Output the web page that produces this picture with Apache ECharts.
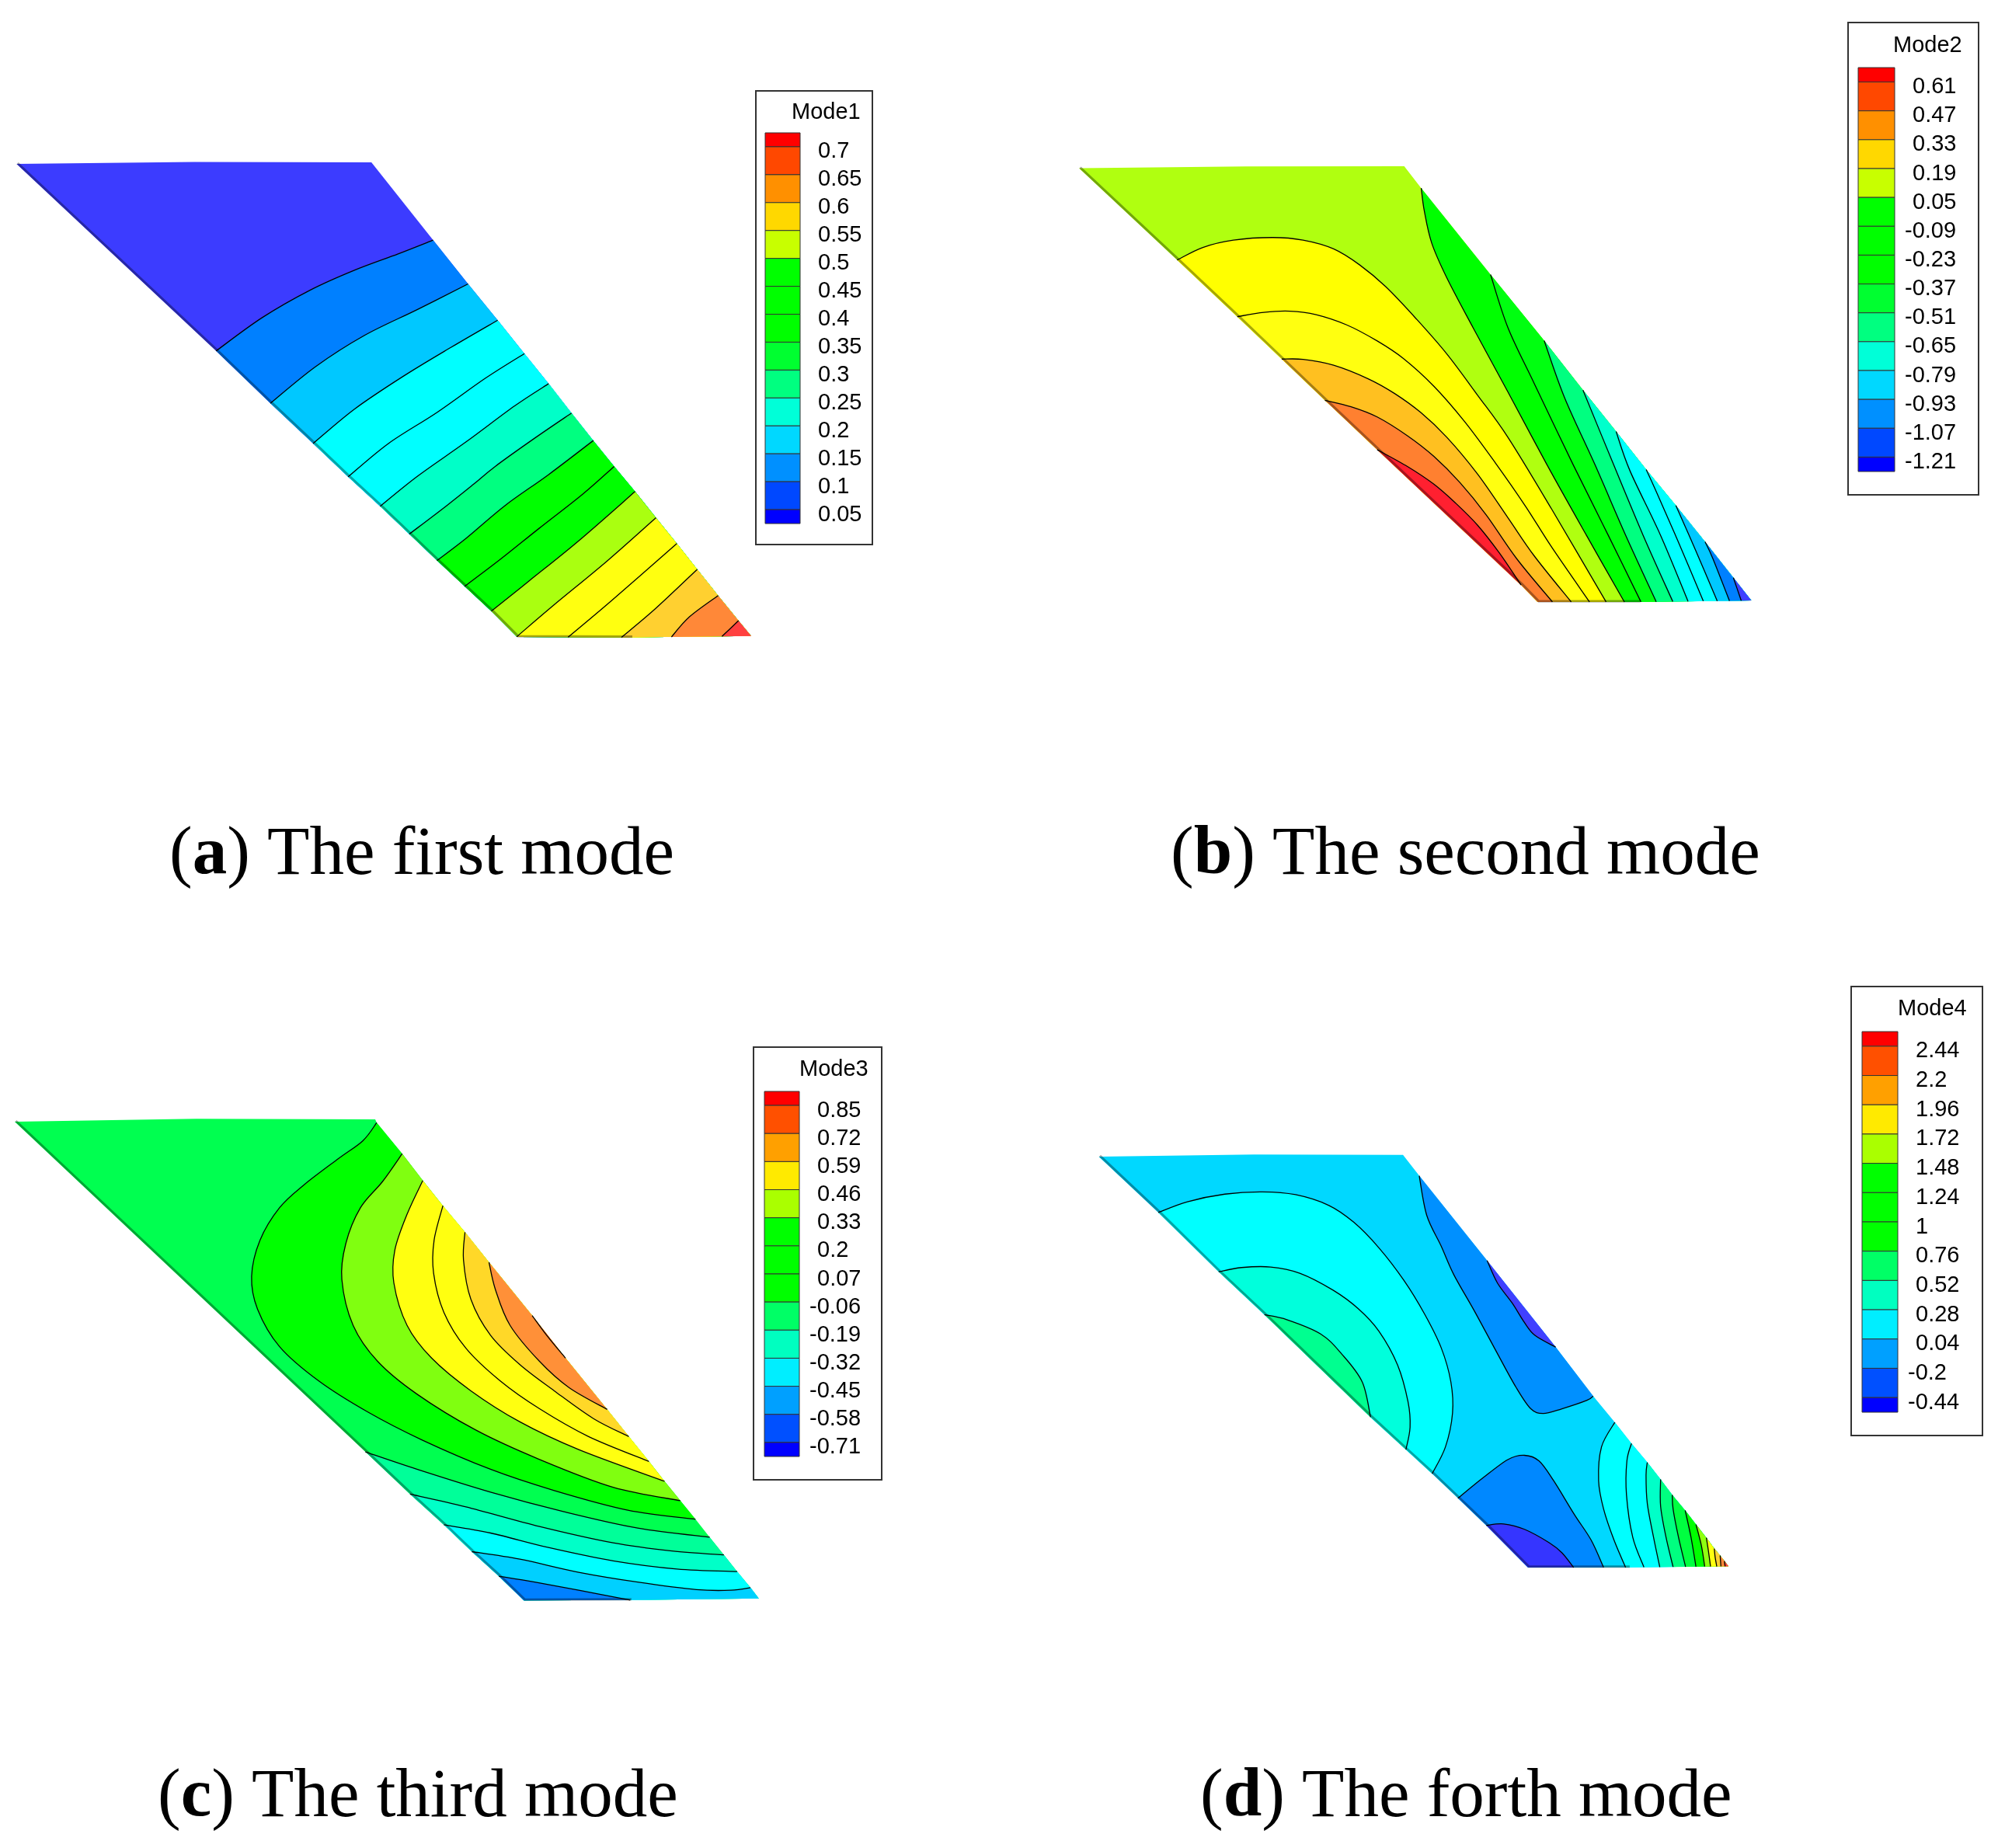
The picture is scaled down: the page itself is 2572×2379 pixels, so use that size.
<!DOCTYPE html>
<html>
<head>
<meta charset="utf-8">
<style>
  html, body { margin: 0; padding: 0; background: #fff; }
  #chart { width: 2572px; height: 2379px; }
</style>
<script src="https://cdn.jsdelivr.net/npm/echarts@6/dist/echarts.min.js"></script>
</head>
<body>
<div id="chart"></div>
<script>
'use strict';

// legend levels
var mode1Ticks = [0.7, 0.65, 0.6, 0.55, 0.5, 0.45, 0.4, 0.35, 0.3, 0.25, 0.2, 0.15, 0.1, 0.05];
var mode2Ticks = [0.61, 0.47, 0.33, 0.19, 0.05, -0.09, -0.23, -0.37, -0.51, -0.65, -0.79, -0.93, -1.07, -1.21];
var mode3Ticks = [0.85, 0.72, 0.59, 0.46, 0.33, 0.2, 0.07, -0.06, -0.19, -0.32, -0.45, -0.58, -0.71];
var mode4Ticks = [2.44, 2.2, 1.96, 1.72, 1.48, 1.24, 1, 0.76, 0.52, 0.28, 0.04, -0.2, -0.44];

var colors15 = ['#ff0000', '#ff4800', '#ff9000', '#ffd800', '#c8ff00', '#00ff00', '#00ff00', '#00ff00', '#00ff30', '#00ff80', '#00ffd8', '#00d8ff', '#0090ff', '#0048ff', '#0000ff'];
var colors14 = ['#ff0000', '#ff5000', '#ffa000', '#ffea00', '#aaff00', '#00ff00', '#00ff00', '#00ff00', '#00ff66', '#00ffc0', '#00eeff', '#00a0ff', '#0050ff', '#0000ff'];

// wing outlines, clockwise from the root leading corner, in crop units (0-1568 each way)
var mode1Outline = [[34, 50], [400, 44], [765, 45], [892, 283], [964, 417], [1025, 528], [1080, 630], [1130, 722], [1177, 812], [1222, 896], [1265, 975], [1308, 1052], [1351, 1132], [1394, 1211], [1436, 1290], [1479, 1370], [1521, 1447], [1547, 1494], [1300, 1498], [1065, 1497], [1012, 1418], [957, 1342], [900, 1263], [843, 1182], [783, 1097], [717, 1007], [645, 905], [557, 782], [445, 622]];
var mode1Base = '#3c3cff';
var mode1Colors = ['#0080ff', '#00c8ff', '#00ffff', '#00ffff', '#00ffc8', '#00ff80', '#00ff00', '#00ff00', '#aaff10', '#ffff10', '#ffff10', '#ffd030', '#ff8838', '#ff4040'];
var mode1Contours = [
  [[445, 622], [540, 520], [640, 435], [730, 375], [820, 325], [892, 283]],
  [[557, 782], [650, 670], [750, 575], [860, 495], [964, 417]],
  [[645, 905], [730, 800], [830, 700], [930, 610], [1025, 528]],
  [[717, 1007], [800, 905], [900, 810], [1000, 705], [1080, 630]],
  [[783, 1097], [860, 1005], [960, 900], [1060, 790], [1130, 722]],
  [[843, 1182], [920, 1095], [975, 1030], [1020, 975], [1100, 890], [1177, 812]],
  [[900, 1263], [960, 1195], [1040, 1095], [1130, 1000], [1222, 896]],
  [[957, 1342], [1030, 1260], [1110, 1165], [1200, 1060], [1265, 975]],
  [[1012, 1418], [1090, 1325], [1190, 1205], [1308, 1052]],
  [[1065, 1495], [1140, 1400], [1250, 1265], [1351, 1132]],
  [[1170, 1499], [1260, 1385], [1394, 1211]],
  [[1280, 1499], [1350, 1410], [1436, 1290]],
  [[1383, 1497], [1420, 1435], [1479, 1370]],
  [[1487, 1497], [1521, 1447]]
];

var mode2Outline = [[16, 44], [400, 38], [762, 37], [801, 112], [960, 408], [1083, 634], [1172, 803], [1248, 945], [1317, 1075], [1385, 1198], [1452, 1322], [1517, 1445], [1558, 1523], [1300, 1528], [1068, 1528], [1030, 1470], [700, 1007], [580, 838], [481, 697], [379, 552], [241, 358]];
var mode2Base = '#b0ff10';
var mode2Colors = ['#ffff00', '#ffff10', '#ffc020', '#ff8030', '#ff2030', '#00ff00', '#00ff10', '#00ff80', '#00ffcc', '#00ffff', '#00ffff', '#00c8ff', '#0080ff', '#4040ff'];
var mode2Contours = [
  [[241, 358], [300, 315], [370, 290], [460, 281], [530, 290], [600, 320], [660, 375], [720, 450], [790, 560], [860, 680], [930, 820], [1000, 965], [1100, 1210], [1225, 1528]],
  [[379, 552], [440, 537], [500, 533], [560, 545], [630, 580], [700, 635], [760, 695], [830, 790], [900, 910], [970, 1050], [1040, 1200], [1100, 1340], [1187, 1528]],
  [[481, 697], [530, 698], [600, 718], [680, 765], [740, 815], [800, 880], [860, 965], [930, 1090], [1000, 1240], [1060, 1370], [1145, 1528]],
  [[580, 838], [640, 860], [700, 895], [770, 960], [830, 1030], [890, 1120], [950, 1230], [1020, 1380], [1102, 1528]],
  [[700, 1007], [770, 1065], [830, 1125], [880, 1190], [930, 1265], [980, 1360], [1030, 1470]],
  [[1267, 1528], [1180, 1300], [1090, 1060], [1000, 810], [920, 590], [860, 420], [825, 300], [808, 190], [801, 112]],
  [[1305, 1528], [1230, 1300], [1150, 1060], [1060, 780], [1000, 590], [960, 408]],
  [[1340, 1528], [1270, 1300], [1200, 1060], [1130, 830], [1083, 634]],
  [[1378, 1528], [1310, 1300], [1240, 1050], [1172, 803]],
  [[1413, 1528], [1350, 1300], [1280, 1080], [1248, 945]],
  [[1448, 1528], [1390, 1320], [1340, 1150], [1317, 1075]],
  [[1480, 1528], [1430, 1350], [1385, 1198]],
  [[1508, 1528], [1470, 1380], [1452, 1322]],
  [[1535, 1528], [1525, 1480], [1517, 1445]]
];

var mode3Outline = [[30, 57], [400, 48], [765, 50], [768, 60], [820, 155], [862, 237], [903, 314], [948, 395], [997, 487], [1085, 650], [1153, 780], [1238, 937], [1282, 1020], [1323, 1096], [1355, 1157], [1387, 1216], [1418, 1273], [1447, 1328], [1476, 1382], [1503, 1433], [1530, 1482], [1547, 1515], [1285, 1520], [1068, 1521], [1017, 1447], [962, 1372], [905, 1290], [836, 1196], [745, 1067]];
var mode3Base = '#00ff50';
var mode3Colors = ['#00ff00', '#80ff10', '#ffff10', '#ffff10', '#ffd828', '#ff9038', '#ff3020', '#00ff99', '#00ffc8', '#00ffff', '#00d0ff', '#0080ff'];
var mode3Contours = [
  [[1418, 1273], [1280, 1245], [1130, 1185], [1000, 1120], [860, 1030], [750, 945], [650, 850], [570, 745], [525, 630], [513, 530], [530, 420], [570, 320], [620, 250], [690, 170], [740, 115], [768, 60]],
  [[1387, 1216], [1250, 1175], [1100, 1090], [970, 1000], [850, 890], [770, 790], [720, 680], [697, 540], [705, 430], [735, 320], [780, 240], [820, 155]],
  [[1355, 1157], [1180, 1060], [1060, 975], [960, 880], [880, 780], [830, 680], [803, 550], [805, 450], [830, 340], [862, 237]],
  [[1323, 1096], [1200, 1020], [1100, 935], [1020, 850], [950, 750], [905, 640], [884, 520], [885, 420], [903, 314]],
  [[1282, 1020], [1210, 965], [1130, 880], [1060, 800], [1000, 710], [960, 600], [945, 480], [948, 395]],
  [[1238, 937], [1160, 870], [1100, 790], [1040, 680], [1010, 570], [997, 487]],
  [[1153, 780], [1116, 713], [1085, 650]],
  [[745, 1067], [850, 1120], [1000, 1190], [1150, 1250], [1300, 1300], [1447, 1328]],
  [[836, 1196], [950, 1235], [1100, 1295], [1250, 1345], [1370, 1370], [1476, 1382]],
  [[905, 1290], [1000, 1315], [1120, 1360], [1250, 1400], [1380, 1425], [1503, 1433]],
  [[962, 1372], [1060, 1395], [1180, 1435], [1300, 1465], [1420, 1488], [1490, 1490], [1530, 1482]],
  [[1017, 1447], [1090, 1465], [1180, 1490], [1285, 1520]]
];

var mode4Outline = [[27, 52], [400, 45], [758, 46], [797, 120], [960, 420], [1125, 727], [1215, 900], [1267, 993], [1307, 1068], [1345, 1135], [1377, 1195], [1405, 1250], [1436, 1305], [1462, 1355], [1487, 1402], [1506, 1440], [1520, 1465], [1540, 1503], [1300, 1507], [1058, 1507], [958, 1358], [890, 1262], [828, 1175], [765, 1090], [680, 975], [425, 612], [315, 460], [170, 250]];
var mode4Base = '#00d8ff';
var mode4Colors = ['#00ffff', '#00ffdc', '#00ff90', '#0090ff', '#4040ff', '#0088ff', '#3535ff', '#00ffff', '#00ffff', '#00ffc8', '#00ff80', '#00ff40', '#00ff00', '#90ff10', '#ffff10', '#ffd030', '#ff8838', '#ff4040'];
var mode4Contours = [
  [[170, 250], [240, 212], [330, 185], [420, 177], [500, 187], [580, 225], [640, 285], [700, 375], [760, 490], [810, 610], [850, 730], [873, 850], [877, 960], [860, 1080], [828, 1175]],
  [[315, 460], [370, 445], [440, 443], [510, 465], [590, 525], [650, 590], [700, 670], [745, 790], [770, 920], [775, 1010], [765, 1090]],
  [[425, 612], [480, 630], [560, 680], [610, 750], [660, 850], [680, 975]],
  [[1215, 900], [1200, 915], [1140, 945], [1095, 962], [1065, 945], [1030, 870], [985, 750], [930, 600], [880, 470], [850, 370], [815, 260], [797, 120]],
  [[1125, 727], [1075, 685], [1050, 640], [1020, 570], [985, 500], [960, 420]],
  [[890, 1262], [950, 1190], [1010, 1125], [1050, 1110], [1085, 1130], [1120, 1200], [1170, 1320], [1210, 1410], [1240, 1507]],
  [[958, 1358], [1000, 1353], [1050, 1372], [1110, 1420], [1140, 1455], [1168, 1507]],
  [[1293, 1507], [1265, 1410], [1240, 1300], [1228, 1200], [1235, 1080], [1267, 993]],
  [[1337, 1507], [1310, 1400], [1295, 1250], [1296, 1130], [1307, 1068]],
  [[1375, 1507], [1360, 1400], [1345, 1280], [1342, 1180], [1345, 1135]],
  [[1407, 1507], [1390, 1400], [1377, 1290], [1377, 1195]],
  [[1437, 1507], [1420, 1400], [1407, 1300], [1405, 1250]],
  [[1462, 1507], [1450, 1400], [1436, 1305]],
  [[1483, 1507], [1475, 1430], [1462, 1355]],
  [[1497, 1507], [1492, 1450], [1487, 1402]],
  [[1512, 1507], [1508, 1470], [1506, 1440]],
  [[1522, 1507], [1520, 1465]],
  [[1532, 1507], [1530, 1485]]
];

var captions = [
  ['a', ' The first mode'],
  ['b', ' The second mode'],
  ['c', ' The third mode'],
  ['d', ' The forth mode']
];

// layout
var wings = [
  {rect: [0, 190, 980, 660], outline: mode1Outline, base: mode1Base, colors: mode1Colors, contours: mode1Contours},
  {rect: [1380, 200, 880, 590], outline: mode2Outline, base: mode2Base, colors: mode2Colors, contours: mode2Contours},
  {rect: [0, 1420, 990, 660], outline: mode3Outline, base: mode3Base, colors: mode3Colors, contours: mode3Contours},
  {rect: [1400, 1470, 840, 570], outline: mode4Outline, base: mode4Base, colors: mode4Colors, contours: mode4Contours}
];
var legends = [
  {name: 'Mode1', ticks: mode1Ticks, colors: colors15, box: [973, 117, 150, 584], bar: [985, 171, 45, 503], title: [1019, 130]},
  {name: 'Mode2', ticks: mode2Ticks, colors: colors15, box: [2379, 29, 168, 608], bar: [2392, 87, 47, 520], title: [2437, 44]},
  {name: 'Mode3', ticks: mode3Ticks, colors: colors14, box: [970, 1348, 165, 557], bar: [984, 1405, 45, 470], title: [1029, 1362]},
  {name: 'Mode4', ticks: mode4Ticks, colors: colors14, box: [2383, 1270, 169, 578], bar: [2397, 1328, 46, 490], title: [2443, 1284]}
];
var captionPos = [[218, 1057], [1507, 1057], [203, 2270], [1545, 2270]];

function nearest(p, poly) {
  var best = null;
  poly.forEach(function (a, i) {
    var b = poly[(i + 1) % poly.length];
    var dx = b[0] - a[0], dy = b[1] - a[1];
    var len = dx * dx + dy * dy;
    var t = len ? ((p[0] - a[0]) * dx + (p[1] - a[1]) * dy) / len : 0;
    t = Math.max(0, Math.min(1, t));
    var q = [a[0] + t * dx, a[1] + t * dy];
    var d = Math.hypot(q[0] - p[0], q[1] - p[1]);
    if (!best || d < best.d) {
      best = {i: i, t: t, d: d, point: q};
    }
  });
  return best;
}

// outline corners passed going clockwise from one contour end to the other
function walk(poly, from, to) {
  var res = [];
  if (from.i === to.i && to.t >= from.t) {
    return res;
  }
  var k = (from.i + 1) % poly.length;
  while (true) {
    res.push(poly[k]);
    if (k === to.i) {
      break;
    }
    k = (k + 1) % poly.length;
  }
  return res;
}

function fmt(p) {
  return p[0].toFixed(2) + ' ' + p[1].toFixed(2);
}

// smooth path through the read contour points
function curve(pts) {
  var d = 'M' + fmt(pts[0]);
  for (var i = 0; i < pts.length - 1; i++) {
    var p0 = pts[Math.max(i - 1, 0)], p1 = pts[i], p2 = pts[i + 1], p3 = pts[Math.min(i + 2, pts.length - 1)];
    d += ' C' + fmt([p1[0] + (p2[0] - p0[0]) / 6, p1[1] + (p2[1] - p0[1]) / 6]) +
      ' ' + fmt([p2[0] - (p3[0] - p1[0]) / 6, p2[1] - (p3[1] - p1[1]) / 6]) +
      ' ' + fmt(p2);
  }
  return d;
}

function contourPath(api, wing, index) {
  var poly = wing.outline.map(api.coord);
  var pts = wing.contours[index].map(api.coord);
  var start = nearest(pts[0], poly);
  var end = nearest(pts[pts.length - 1], poly);
  pts[0] = start.point;
  pts[pts.length - 1] = end.point;
  return {poly: poly, line: curve(pts), start: start, end: end};
}

var grid = [], xAxis = [], yAxis = [], series = [], title = [], graphic = [];

wings.forEach(function (wing, w) {
  grid.push({left: wing.rect[0], top: wing.rect[1], width: wing.rect[2], height: wing.rect[3]});
  xAxis.push({type: 'value', gridIndex: w, min: 0, max: 1568, show: false});
  yAxis.push({type: 'value', gridIndex: w, min: 0, max: 1568, inverse: true, show: false});

  var fills = [-1].concat(wing.contours.map(function (c, i) { return i; }));
  series.push({
    type: 'custom',
    name: 'wing' + (w + 1),
    coordinateSystem: 'cartesian2d',
    xAxisIndex: w,
    yAxisIndex: w,
    clip: false,
    silent: true,
    z: 2,
    data: fills,
    encode: {x: 0, y: 0},
    renderItem: function (params, api) {
      var index = fills[params.dataIndex];
      if (index < 0) {
        return {type: 'polygon', shape: {points: wing.outline.map(api.coord)}, style: {fill: wing.base}};
      }
      var c = contourPath(api, wing, index);
      var d = c.line;
      walk(c.poly, c.end, c.start).forEach(function (p) {
        d += ' L' + fmt(p);
      });
      return {type: 'path', shape: {pathData: d + ' Z'}, style: {fill: wing.colors[index]}};
    }
  });

  // contour lines on top, then the dark rim along the lower and leading edges
  var lines = wing.contours.map(function (c, i) { return i; }).concat([-1]);
  series.push({
    type: 'custom',
    name: 'contour' + (w + 1),
    coordinateSystem: 'cartesian2d',
    xAxisIndex: w,
    yAxisIndex: w,
    clip: false,
    silent: true,
    z: 3,
    data: lines,
    encode: {x: 0, y: 0},
    renderItem: function (params, api) {
      var index = lines[params.dataIndex];
      if (index < 0) {
        var xs = wing.outline.map(function (p) { return p[0]; });
        var tip = xs.indexOf(Math.max.apply(null, xs));
        var rim = wing.outline.slice(tip + 1).concat([wing.outline[0]]).map(api.coord);
        return {
          type: 'polyline',
          x: 1.5,
          y: -1,
          shape: {points: rim},
          style: {fill: null, stroke: 'rgba(0,0,0,0.35)', lineWidth: 3}
        };
      }
      return {
        type: 'path',
        shape: {pathData: contourPath(api, wing, index).line},
        style: {fill: null, stroke: '#000', lineWidth: 1.3}
      };
    }
  });
});

legends.forEach(function (lg, n) {
  var g = wings.length + n;
  var step = lg.ticks[0] - lg.ticks[1];
  var hi = lg.ticks[0] + step / 2;
  var lo = lg.ticks[lg.ticks.length - 1] - step / 2;
  var margin = 23;
  grid.push({left: lg.bar[0], top: lg.bar[1], width: lg.bar[2], height: lg.bar[3]});
  xAxis.push({type: 'value', gridIndex: g, min: 0, max: 1, show: false});
  var positive = lg.ticks.filter(function (v) { return v >= 0; });
  var negative = lg.ticks.filter(function (v) { return v < 0; });
  var yIndex = yAxis.length;
  [[positive, margin], [negative, margin - 10]].forEach(function (item) {
    yAxis.push({
      type: 'value',
      gridIndex: g,
      position: 'right',
      min: lo,
      max: hi,
      show: item[0].length > 0,
      axisLine: {show: false},
      axisTick: {show: false},
      splitLine: {show: false},
      axisLabel: {
        show: item[0].length > 0,
        customValues: item[0],
        margin: item[1],
        showMinLabel: true,
        showMaxLabel: true,
        fontFamily: 'Liberation Sans',
        fontSize: 29,
        color: '#000',
        align: 'left',
        // labels sit a little below their level line
        verticalAlign: 'top',
        lineHeight: 13,
        formatter: function (v) { return String(v); }
      }
    });
  });

  var rows = lg.colors.map(function (c, i) {
    var top = i === 0 ? hi : lg.ticks[i - 1];
    var bottom = i === lg.colors.length - 1 ? lo : lg.ticks[i];
    return [top, bottom, i];
  });
  series.push({
    type: 'custom',
    name: lg.name,
    coordinateSystem: 'cartesian2d',
    xAxisIndex: g,
    yAxisIndex: yIndex,
    silent: true,
    z: 2,
    data: rows,
    encode: {y: [0, 1]},
    renderItem: function (params, api) {
      var a = api.coord([0, api.value(0)]);
      var b = api.coord([1, api.value(1)]);
      return {
        type: 'rect',
        shape: {x: a[0], y: a[1], width: b[0] - a[0], height: b[1] - a[1]},
        style: {fill: lg.colors[api.value(2)], stroke: '#333', lineWidth: 1}
      };
    }
  });

  title.push({
    text: lg.name,
    left: lg.title[0],
    top: lg.title[1],
    padding: 0,
    textStyle: {fontFamily: 'Liberation Sans', fontSize: 29, fontWeight: 'normal', color: '#000'}
  });
  graphic.push({
    type: 'rect',
    shape: {x: lg.box[0], y: lg.box[1], width: lg.box[2], height: lg.box[3]},
    style: {fill: '#fff', stroke: '#333', lineWidth: 2},
    z: 0
  });
});

captions.forEach(function (c, i) {
  title.push({
    text: '({b|' + c[0] + '})' + c[1],
    left: captionPos[i][0],
    top: captionPos[i][1],
    padding: 0,
    textStyle: {
      fontFamily: 'Liberation Serif',
      fontSize: 89,
      fontWeight: 'normal',
      color: '#000',
      rich: {b: {fontFamily: 'Liberation Serif', fontSize: 89, fontWeight: 'bold', color: '#000'}}
    }
  });
});

var chart = echarts.init(document.getElementById('chart'));
chart.setOption({
  backgroundColor: '#fff',
  animation: false,
  title: title,
  grid: grid,
  xAxis: xAxis,
  yAxis: yAxis,
  graphic: graphic,
  series: series
});
</script>
</body>
</html>
